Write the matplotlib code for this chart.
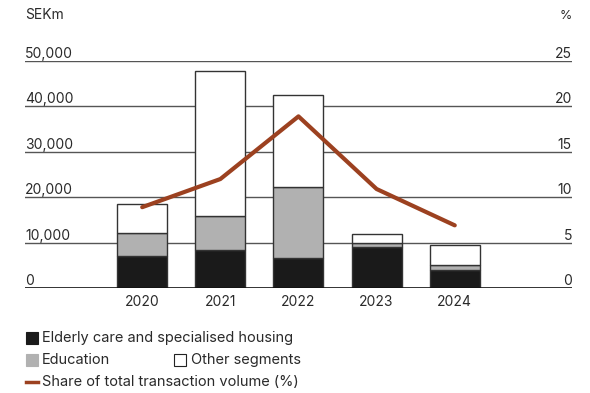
import matplotlib.pyplot as plt
from matplotlib.patches import Rectangle
from matplotlib.lines import Line2D
import numpy as np

plt.rcParams['font.family'] = ['Inter', 'DejaVu Sans']

# Transaction volume by segment, SEKm
years = ["2020", "2021", "2022", "2023", "2024"]
elderly = [6950, 8420, 6660, 8920, 3960]
education = [5270, 7470, 15670, 1100, 1090]
other = [6240, 31800, 20220, 1910, 4470]
# Share of total transaction volume, %
share = [8.9, 12.0, 18.9, 10.9, 6.9]

left_ticks = [0, 10000, 20000, 30000, 40000, 50000]
right_ticks = [0, 5, 10, 15, 20, 25]

black = "#1a1a1a"
grey = "#b1b1b1"
rust = "#9c4120"
edge = "#333333"
txt = "#2a2a2a"
fs = 10
lfs = 10.5

fig = plt.figure(figsize=(5.9, 3.93), dpi=100)
ax = fig.add_axes([0.0424, 0.2672, 0.927, 0.5776])
ax2 = ax.twinx()

x = np.arange(len(years))
w = 0.64
elderly = np.array(elderly)
education = np.array(education)
other = np.array(other)

ax.bar(x, elderly, w, color=black, edgecolor=edge, linewidth=1, zorder=3)
ax.bar(x, education, w, bottom=elderly, color=grey, edgecolor=edge, linewidth=1, zorder=3)
ax.bar(x, other, w, bottom=elderly + education, color="white", edgecolor=edge,
       linewidth=1, zorder=3)

ax.set_xlim(-1.5, 5.5)
ax.set_ylim(0, 50000)
ax2.set_ylim(0, 25)

for t in left_ticks[1:]:
    ax.axhline(t, color="#555555", linewidth=1, zorder=1)
ax.axhline(0, color="#111111", linewidth=1.2, zorder=4)

for a in (ax, ax2):
    for s in a.spines.values():
        s.set_visible(False)
    a.set_yticks([])
ax.set_xticks(x)
ax.set_xticklabels(years, fontsize=fs, color=txt)
ax.tick_params(axis="x", length=0, pad=5)

ax2.plot(x, share, color=rust, linewidth=3, solid_capstyle="round", zorder=5)

# Tick labels sitting on top of the grid lines
for t in left_ticks:
    ax.text(0.0, t, f"{t:,}", transform=ax.get_yaxis_transform(), ha="left",
            va="bottom", fontsize=fs, color=txt)
for t in right_ticks:
    ax2.text(1.0, t, f"{t}", transform=ax2.get_yaxis_transform(), ha="right",
             va="bottom", fontsize=fs, color=txt)

fig.text(0.0424, 0.945, "SEKm", fontsize=fs, color=txt, va="bottom")
fig.text(0.9695, 0.945, "%", fontsize=9, color=txt, va="bottom", ha="right")

# Legend
def swatch(xp, yp, fc):
    fig.patches.append(Rectangle((xp / 590, 1 - (yp + 6) / 393), 12 / 590, 12 / 393,
                                 transform=fig.transFigure, facecolor=fc,
                                 edgecolor="#222222" if fc == "white" else fc,
                                 linewidth=0.8))

swatch(26, 338, black)
fig.text(42 / 590, 1 - 338 / 393, "Elderly care and specialised housing", fontsize=lfs,
         va="center", color=txt)
swatch(26, 360, grey)
fig.text(42 / 590, 1 - 360 / 393, "Education", fontsize=lfs, va="center", color=txt)
swatch(174, 360, "white")
fig.text(191 / 590, 1 - 360 / 393, "Other segments", fontsize=lfs, va="center", color=txt)
fig.lines.append(Line2D([26 / 590, 38 / 590], [1 - 382 / 393, 1 - 382 / 393],
                        transform=fig.transFigure, color=rust, linewidth=2.5))
fig.text(42 / 590, 1 - 382 / 393, "Share of total transaction volume (%)", fontsize=lfs,
         va="center", color=txt)

fig.savefig("out.png", dpi=100)
